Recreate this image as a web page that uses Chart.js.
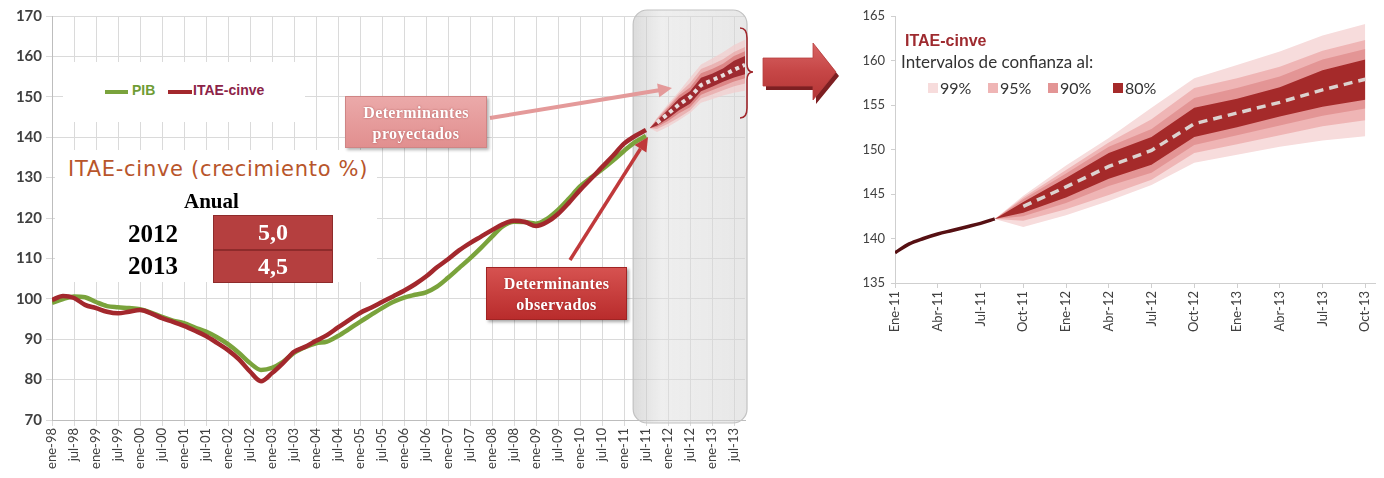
<!DOCTYPE html>
<html>
<head>
<meta charset="utf-8">
<script src="https://cdn.jsdelivr.net/npm/chart.js@4.4.0/dist/chart.umd.min.js"></script>
<style>
  body { margin: 0; background: #fff; width: 1384px; height: 478px; position: relative; overflow: hidden; font-family: Lato, sans-serif; }
  .abs { position: absolute; }
  #wrapLeft { left: 0; top: 0; width: 760px; height: 478px; }
  #wrapRight { left: 840px; top: 0; width: 544px; height: 340px; }
  .blanco { background: #fff; }
  .serif { font-family: "Liberation Serif", serif; font-weight: bold; }
  .caja { color: #fff; text-align: center; font-family: "Liberation Serif", serif; font-weight: bold; font-size: 16px; line-height: 21px; letter-spacing: 0.4px; box-sizing: border-box; padding-top: 5px; text-shadow: 0 0 2px rgba(120,20,20,.5); }
  .cuadro { width: 10px; height: 10px; }
  .ley { font-size: 16px; color: #333; }
</style>
</head>
<body>
<div id="wrapLeft" class="abs"><canvas id="cLeft"></canvas></div>
<div id="wrapRight" class="abs"><canvas id="cRight"></canvas></div>

<!-- tapas blancas sobre la grilla -->
<div class="abs blanco" style="left:63px;top:62px;width:242px;height:60px"></div>
<div class="abs blanco" style="left:55px;top:150px;width:322px;height:132px"></div>

<!-- leyenda izquierda -->
<div class="abs" style="left:105px;top:90px;width:23px;height:4px;background:#7aa33c"></div>
<div class="abs" style="left:132px;top:82px;font:bold 14px 'Liberation Sans',sans-serif;color:#6f9c35">PIB</div>
<div class="abs" style="left:168px;top:90px;width:24px;height:4px;background:#a3282d"></div>
<div class="abs" style="left:193px;top:82px;font:bold 14px 'Liberation Sans',sans-serif;color:#8c2348">ITAE-cinve</div>

<!-- tabla de crecimiento -->
<div class="abs" style="left:68px;top:157px;font:21px 'DejaVu Sans',sans-serif;letter-spacing:0.7px;color:#b8552b">ITAE-cinve (crecimiento %)</div>
<div class="abs serif" style="left:184px;top:189px;font-size:21px">Anual</div>
<div class="abs serif" style="left:128px;top:220px;font-size:25px">2012</div>
<div class="abs serif" style="left:128px;top:252px;font-size:25px">2013</div>
<div class="abs serif" style="left:213px;top:215px;width:120px;height:35px;box-sizing:border-box;background:#b53f3f;border:1px solid #8e2b2b;color:#fff;font-size:24px;text-align:center;line-height:33px">5,0</div>
<div class="abs serif" style="left:213px;top:250px;width:120px;height:33px;box-sizing:border-box;background:#b53f3f;border:1px solid #8e2b2b;color:#fff;font-size:24px;text-align:center;line-height:31px">4,5</div>

<svg class="abs" width="1384" height="478" style="left:0;top:0">
  <defs>
    <linearGradient id="gFlecha" x1="0" y1="0" x2="0" y2="1">
      <stop offset="0" stop-color="#d86464"/>
      <stop offset="0.5" stop-color="#c64646"/>
      <stop offset="1" stop-color="#b43535"/>
    </linearGradient>
  </defs>
  <!-- flecha proyectados -->
  <line x1="490" y1="118" x2="659" y2="90.3" stroke="#e49a9a" stroke-width="4"/>
  <polygon points="672,88 659.3,97.2 657.1,83.4" fill="#e49a9a"/>
  <!-- flecha observados -->
  <line x1="570" y1="260" x2="640.5" y2="148.8" stroke="#c0393b" stroke-width="3.5"/>
  <polygon points="648,137 646.4,152.6 634.6,145.1" fill="#c0393b"/>
  <!-- llave -->
  <path d="M740,28 Q747,28 747,38 L747,64 Q747,72 753,72 Q747,72 747,80 L747,108 Q747,118 740,118" fill="none" stroke="#a0282d" stroke-width="1.6"/>
  <!-- flecha grande -->
  <polygon points="766,62 816,62 816,47 839,76 816,104 816,90 766,90" fill="#7d1f22"/>
  <polygon points="763,58 813,58 813,43 836,72 813,100 813,86 763,86" fill="url(#gFlecha)" stroke="#b84040" stroke-width="0.8"/>
</svg>

<!-- cajas de texto -->
<div class="abs caja" style="left:345px;top:96px;width:142px;height:52px;background:linear-gradient(#eba9a9,#e18f8f);border:1px solid #cf8585;box-shadow:2px 2px 3px rgba(0,0,0,.3)">Determinantes<br>proyectados</div>
<div class="abs caja" style="left:486px;top:267px;width:141px;height:53px;background:linear-gradient(#d65250,#b92c2c);border:1px solid #a02424;box-shadow:2px 2px 3px rgba(0,0,0,.35)">Determinantes<br>observados</div>

<!-- leyenda derecha -->
<div class="abs" style="left:905px;top:32px;font:bold 16px 'Liberation Sans',sans-serif;color:#9e2a2f">ITAE-cinve</div>
<div class="abs ley" style="left:901px;top:51px;font-size:17px">Intervalos de confianza al:</div>
<div class="abs cuadro" style="left:928px;top:83px;background:#f7dcdc"></div>
<div class="abs ley" style="left:940px;top:78px">99%</div>
<div class="abs cuadro" style="left:988px;top:83px;background:#efb5b5"></div>
<div class="abs ley" style="left:1000px;top:78px">95%</div>
<div class="abs cuadro" style="left:1048px;top:83px;background:#e39595"></div>
<div class="abs ley" style="left:1060px;top:78px">90%</div>
<div class="abs cuadro" style="left:1113px;top:83px;background:#a52a2a"></div>
<div class="abs ley" style="left:1125px;top:78px">80%</div>

<script>
// Serie observada (meses desde ene-98, trimestral)
const leftMonths = [0, 3, 6, 9, 12, 15, 18, 21, 24, 27, 30, 33, 36, 39, 42, 45, 48, 51, 54, 57,
  60, 63, 66, 69, 72, 75, 78, 81, 84, 87, 90, 93, 96, 99, 102, 105, 108, 111, 114, 117,
  120, 123, 126, 129, 132, 135, 138, 141, 144, 147, 150, 153, 156, 159, 162];
const itaeObs = [99.7, 100.7, 100.2, 98.5, 97.7, 96.8, 96.4, 96.8, 97.2, 96.4, 95.2, 94.3, 93.3, 92.1, 90.8, 89.1, 87.3, 85.0, 82.0, 79.6,
  81.6, 84.1, 86.9, 88.1, 89.6, 91.0, 92.9, 94.7, 96.5, 97.8, 99.2, 100.6, 102.0, 103.6, 105.5, 107.8, 109.8, 112.0, 113.8, 115.4,
  117.0, 118.5, 119.3, 119.0, 118.0, 119.0, 121.0, 123.8, 126.9, 129.7, 132.6, 135.4, 138.4, 140.3, 141.8];
const pibObs = [99.0, 99.9, 100.6, 100.4, 99.2, 98.2, 97.9, 97.7, 97.4, 96.6, 95.5, 94.6, 94.0, 92.9, 91.9, 90.5, 88.8, 86.6, 84.1, 82.4,
  82.9, 84.4, 86.6, 88.0, 89.0, 89.4, 90.8, 92.5, 94.3, 96.0, 97.7, 99.2, 100.3, 101.0, 101.6, 103.0, 105.2, 107.6, 110.0, 112.6,
  115.4, 118.0, 119.1, 119.0, 118.6, 119.8, 122.0, 124.8, 127.8, 130.0, 132.0, 134.2, 136.6, 138.8, 140.3];
const leftTickLabels = ['ene-98', 'jul-98', 'ene-99', 'jul-99', 'ene-00', 'jul-00', 'ene-01', 'jul-01', 'ene-02', 'jul-02',
  'ene-03', 'jul-03', 'ene-04', 'jul-04', 'ene-05', 'jul-05', 'ene-06', 'jul-06', 'ene-07', 'jul-07', 'ene-08', 'jul-08',
  'ene-09', 'jul-09', 'ene-10', 'jul-10', 'ene-11', 'jul-11', 'ene-12', 'jul-12', 'ene-13', 'jul-13'];

// Tramo reciente y proyeccion (meses desde ene-11)
const recentMonths = [0, 1, 2, 3, 4, 5, 6, 7];
const itaeRecent = [138.4, 139.4, 140.0, 140.5, 140.9, 141.3, 141.7, 142.2];
const fanMonths = [7, 9, 12, 15, 18, 21, 24, 27, 30, 33];
const fanCentral = [null, 143.6, 145.8, 148.1, 149.9, 152.9, 154.1, 155.3, 156.7, 157.9];
const ic80Sup = [142.2, 144.1, 146.8, 149.6, 151.4, 154.7, 155.7, 157.0, 158.9, 160.1];
const ic80Inf = [142.2, 142.9, 144.6, 146.7, 148.3, 151.4, 152.5, 153.7, 154.8, 155.6];
const ic90Sup = [142.2, 144.4, 147.3, 150.3, 152.3, 155.8, 156.9, 158.2, 160.1, 161.3];
const ic90Inf = [142.2, 142.5, 144.0, 145.9, 147.4, 150.5, 151.6, 152.7, 153.8, 154.6];
const ic95Sup = [142.2, 144.6, 147.7, 150.8, 153.4, 156.9, 158.0, 159.3, 161.1, 162.3];
const ic95Inf = [142.2, 142.0, 143.3, 144.9, 146.6, 149.6, 150.6, 151.6, 152.6, 153.3];
const ic99Sup = [142.2, 144.8, 148.2, 151.3, 154.7, 158.0, 159.5, 161.0, 162.8, 164.1];
const ic99Inf = [142.2, 141.3, 142.6, 144.2, 146.0, 148.5, 149.4, 150.3, 151.0, 151.5];
const rightTickLabels = ['Ene-11', 'Abr-11', 'Jul-11', 'Oct-11', 'Ene-12', 'Abr-12', 'Jul-12', 'Oct-12',
  'Ene-13', 'Abr-13', 'Jul-13', 'Oct-13'];

const ENE11 = 156; // ene-11 en meses desde ene-98

const toPts = (xs, ys, off = 0) => xs.map((m, i) => ({ x: m + off, y: ys[i] }));

const bandColors = { b80: '#a52a2a', b90: '#e39595', b95: '#efb5b5', b99: '#f7dcdc' };

// Bandas: superior rellena hasta la inferior (+1)
function bands(off, colors) {
  const out = [];
  [['b80', ic80Sup, ic80Inf], ['b90', ic90Sup, ic90Inf], ['b95', ic95Sup, ic95Inf], ['b99', ic99Sup, ic99Inf]]
    .forEach(([k, sup, inf]) => {
      out.push({ data: toPts(fanMonths, sup, off), borderWidth: 0, backgroundColor: colors[k], fill: '+1', tension: 0 });
      out.push({ data: toPts(fanMonths, inf, off), borderWidth: 0, fill: false, tension: 0 });
    });
  return out;
}

const tickFont = { family: 'Lato', size: 13 };

// Zona sombreada de proyeccion
const zonaProyeccion = {
  id: 'zonaProyeccion',
  beforeDatasetsDraw(chart) {
    const { ctx, chartArea, scales: { x } } = chart;
    const left = x.getPixelForValue(158.5), right = chartArea.right + 2;
    const top = chartArea.top - 6, bottom = chartArea.bottom + 3;
    ctx.save();
    const g = ctx.createLinearGradient(left, 0, right, 0);
    g.addColorStop(0, 'rgba(190,190,190,0.55)');
    g.addColorStop(0.25, 'rgba(222,222,222,0.5)');
    g.addColorStop(1, 'rgba(212,212,212,0.55)');
    ctx.beginPath();
    ctx.roundRect(left, top, right - left, bottom - top, 14);
    ctx.fillStyle = g;
    ctx.fill();
    ctx.strokeStyle = '#c2c2c2';
    ctx.lineWidth = 1.2;
    ctx.stroke();
    ctx.restore();
  }
};

new Chart(document.getElementById('cLeft'), {
  type: 'line',
  data: {
    datasets: [
      { data: toPts(fanMonths, fanCentral, ENE11), borderColor: '#e8dede', borderWidth: 4, borderDash: [4, 4], fill: false, tension: 0 },
      { data: toPts(leftMonths, itaeObs), borderColor: '#a3282d', borderWidth: 4.5, fill: false, cubicInterpolationMode: 'monotone' },
      { data: toPts(leftMonths, pibObs), borderColor: '#7aa33c', borderWidth: 4.5, fill: false, cubicInterpolationMode: 'monotone' },
      ...bands(ENE11, { b80: '#9e2a30', b90: 'rgba(215,120,120,0.75)', b95: 'rgba(232,165,165,0.7)', b99: 'rgba(242,205,205,0.75)' })
    ]
  },
  options: {
    responsive: true, maintainAspectRatio: false, animation: false,
    layout: { padding: { top: 16, right: 15, left: 0, bottom: 0 } },
    plugins: { legend: { display: false }, tooltip: { enabled: false } },
    elements: { point: { radius: 0 } },
    scales: {
      x: {
        type: 'linear', min: 0, max: 189,
        afterBuildTicks: s => { s.ticks = leftTickLabels.map((_, i) => ({ value: i * 6 })); },
        afterFit: s => { s.height = 58; },
        ticks: { autoSkip: false, minRotation: 90, maxRotation: 90, padding: 2, color: '#404040', font: tickFont,
          callback: (v, i) => leftTickLabels[i] },
        grid: { color: '#dadada', tickLength: 6 },
        border: { color: '#bdbdbd' }
      },
      y: {
        min: 70, max: 170,
        afterFit: s => { s.width = 52; },
        ticks: { stepSize: 10, color: '#404040', padding: 4, font: { family: 'Lato', size: 15, weight: 'bold' } },
        grid: { color: '#dadada', tickLength: 6 },
        border: { color: '#bdbdbd' }
      }
    }
  },
  plugins: [zonaProyeccion]
});

new Chart(document.getElementById('cRight'), {
  type: 'line',
  data: {
    datasets: [
      { data: toPts(fanMonths, fanCentral), borderColor: '#dcd2cf', borderWidth: 3.5, borderDash: [9, 6], fill: false, tension: 0 },
      { data: toPts(recentMonths, itaeRecent), borderColor: '#561013', borderWidth: 3.5, fill: false, cubicInterpolationMode: 'monotone' },
      ...bands(0, bandColors)
    ]
  },
  options: {
    responsive: true, maintainAspectRatio: false, animation: false,
    layout: { padding: { top: 16, right: 6, left: 0, bottom: 0 } },
    plugins: { legend: { display: false }, tooltip: { enabled: false } },
    elements: { point: { radius: 0 } },
    scales: {
      x: {
        type: 'linear', min: 0, max: 33.7,
        afterBuildTicks: s => { s.ticks = rightTickLabels.map((_, i) => ({ value: i * 3 })); },
        afterFit: s => { s.height = 57; },
        ticks: { autoSkip: false, minRotation: 90, maxRotation: 90, padding: 3, color: '#404040', font: { family: 'Lato', size: 13 },
          callback: (v, i) => rightTickLabels[i] },
        grid: { drawOnChartArea: false, color: '#cfcfcf', tickLength: 5 },
        border: { color: '#cfcfcf' }
      },
      y: {
        min: 135, max: 165,
        afterFit: s => { s.width = 55; },
        ticks: { stepSize: 5, color: '#404040', padding: 6, font: { family: 'Lato', size: 13 } },
        grid: { drawOnChartArea: false, color: '#cfcfcf', tickLength: 4 },
        border: { color: '#cfcfcf' }
      }
    }
  }
});
</script>
</body>
</html>
